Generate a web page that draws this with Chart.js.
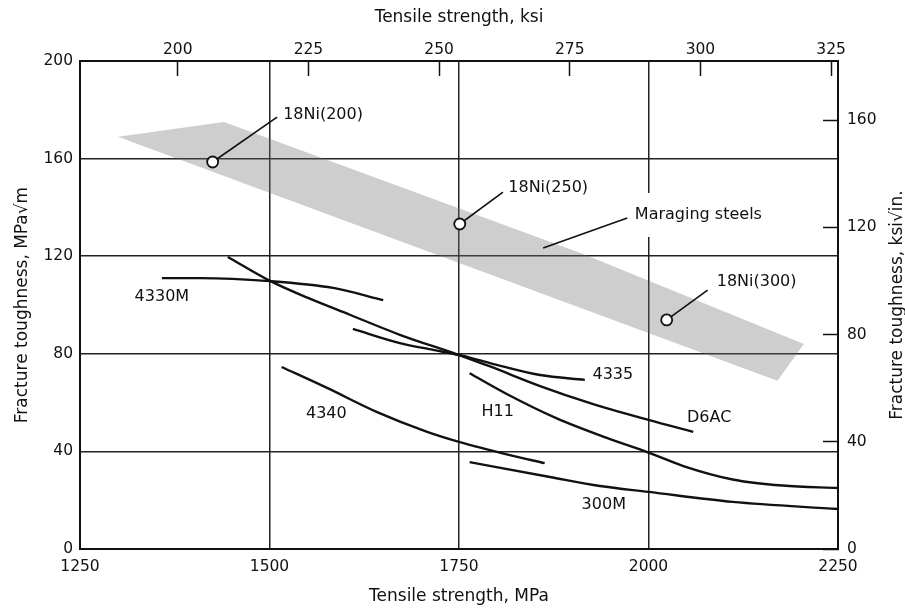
<!DOCTYPE html>
<html><head><meta charset="utf-8">
<script src="https://cdn.jsdelivr.net/npm/chart.js@4.4.1/dist/chart.umd.min.js"></script>
<style>html,body{margin:0;padding:0;background:#fff}canvas{display:block}</style>
</head><body>
<canvas id="c" width="905" height="610"></canvas>
<script>
// unit conversions
const MPA_PER_KSI = 6.895;
const MPAM_PER_KSIIN = 1.0988;

// tick labels
const xTicksMPa = [1250, 1500, 1750, 2000, 2250];
const yTicksMPam = [0, 40, 80, 120, 160, 200];
const topTicksKsi = [200, 225, 250, 275, 300, 325];
const rightTicksKsiIn = [0, 40, 80, 120, 160];

// curves (tensile strength MPa, fracture toughness MPa√m)
const s4330M_x = [1358, 1408, 1500, 1584, 1650];
const s4330M_y = [111, 111, 109.8, 107, 102];
const sD6AC_x = [1445, 1500, 1550, 1606, 1672, 1750, 1791, 1857, 1923, 2000, 2059];
const sD6AC_y = [119.7, 110, 103, 96, 87.8, 79.5, 74.8, 66.8, 59.8, 52.9, 48];
const s4335_x = [1610, 1672, 1716, 1750, 1791, 1857, 1916];
const s4335_y = [90.2, 84.4, 81.6, 79.5, 76.2, 71.3, 69.3];
const s4340_x = [1516, 1576, 1642, 1708, 1750, 1817, 1863];
const s4340_y = [74.6, 66, 56.1, 48, 43.9, 38.5, 35.2];
const sH11_x = [1764, 1813, 1879, 1945, 2000, 2046, 2111, 2177, 2250];
const sH11_y = [72, 63.5, 53.5, 45.5, 39.5, 34, 28.5, 26, 25];
const s300M_x = [1764, 1870, 1936, 2000, 2111, 2250];
const s300M_y = [35.6, 29.5, 25.8, 23.4, 19.3, 16.4];

// maraging steels band
const bandUpper_x = [1300, 1440, 1913, 2205];
const bandUpper_y = [169, 175, 121, 84];
const bandLower_x = [1300, 2170, 2205];
const bandLower_y = [169, 69, 84];

// 18Ni points
const ni_names = ['18Ni(200)', '18Ni(250)', '18Ni(300)'];
const ni_x = [1425, 1751, 2024];
const ni_y = [158.6, 133.2, 93.9];

// leader lines [x1,y1,x2,y2]
const leaders = [
  [1425, 158.6, 1510, 177],
  [1751, 133.2, 1808, 146.3],
  [1861, 123.4, 1972, 135.7],
  [2024, 93.9, 2078, 106.1]
];

// text labels
const labelTexts = ['18Ni(200)', '18Ni(250)', 'Maraging steels', '18Ni(300)', '4330M', '4335', '4340', 'H11', 'D6AC', '300M'];
const labelX = [1518, 1815, 1982, 2090, 1358, 1953, 1575, 1801, 2080, 1941];
const labelY = [177.9, 148, 136.9, 109.4, 103.3, 71.3, 55.3, 56.1, 53.7, 18];
const labelAlign = ['left', 'left', 'left', 'left', 'center', 'center', 'center', 'center', 'center', 'center'];

const zip = (xs, ys) => xs.map((x, i) => ({x, y: ys[i]}));

const FONT = "'DejaVu Sans', sans-serif";
Chart.defaults.font.family = FONT;
Chart.defaults.color = '#111';

const curve = (xs, ys) => ({
  data: zip(xs, ys), showLine: true, borderColor: '#111', borderWidth: 2.4,
  pointRadius: 0, cubicInterpolationMode: 'monotone', fill: false, order: 1
});

const datasets = [
  { data: zip(ni_x, ni_y), showLine: false, pointRadius: 5.5, pointHoverRadius: 5.5,
    pointBackgroundColor: '#fff', pointBorderColor: '#111', pointBorderWidth: 1.8, order: 0 },
  curve(s4330M_x, s4330M_y),
  curve(sD6AC_x, sD6AC_y),
  curve(s4335_x, s4335_y),
  curve(s4340_x, s4340_y),
  curve(sH11_x, sH11_y),
  curve(s300M_x, s300M_y),
];
leaders.forEach(l => datasets.push({
  data: [{x: l[0], y: l[1]}, {x: l[2], y: l[3]}], showLine: true, borderColor: '#111',
  borderWidth: 1.6, pointRadius: 0, fill: false, order: 2
}));
datasets.push({ data: zip(bandLower_x, bandLower_y), showLine: true, borderWidth: 0,
  borderColor: 'rgba(0,0,0,0)', pointRadius: 0, fill: false, order: 3 });
datasets.push({ data: zip(bandUpper_x, bandUpper_y), showLine: true, borderWidth: 0,
  borderColor: 'rgba(0,0,0,0)', pointRadius: 0, fill: '-1',
  backgroundColor: 'rgba(110,110,110,0.34)', order: 3 });

const labelPlugin = {
  id: 'labels',
  afterDatasetsDraw(chart) {
    const ctx = chart.ctx, xs = chart.scales.x, ys = chart.scales.y;
    ctx.save();
    ctx.font = '16px ' + FONT;
    ctx.textBaseline = 'middle';
    labelTexts.forEach((t, i) => {
      const px = xs.getPixelForValue(labelX[i]);
      const py = ys.getPixelForValue(labelY[i]);
      const w = ctx.measureText(t).width;
      const left = labelAlign[i] === 'left' ? px : px - w / 2;
      if (t === 'Maraging steels') {
        ctx.fillStyle = '#fff';
        ctx.fillRect(left - 4, py - 22, w + 8, 44);
      }
      ctx.fillStyle = '#111';
      ctx.textAlign = 'left';
      ctx.fillText(t, left, py);
    });
    ctx.restore();
  },
  afterDraw(chart) {
    const ctx = chart.ctx, y2 = chart.scales.y2;
    ctx.save();
    ctx.font = '17px ' + FONT;
    ctx.fillStyle = '#111';
    ctx.textAlign = 'center';
    ctx.textBaseline = 'middle';
    ctx.translate(898, (y2.top + y2.bottom) / 2);
    ctx.rotate(-Math.PI / 2);
    ctx.fillText('Fracture toughness, ksi\u221Ain.', 0, 0);
    ctx.restore();
  }
};

const gridColor = '#222';
const border = { display: true, color: '#111', width: 2 };

new Chart(document.getElementById('c'), {
  type: 'scatter',
  data: { datasets },
  plugins: [labelPlugin],
  options: {
    responsive: false, animation: false,
    layout: { padding: 0 },
    plugins: { legend: { display: false }, tooltip: { enabled: false } },
    scales: {
      x: {
        type: 'linear', position: 'bottom', min: 1250, max: 2250,
        afterBuildTicks: s => { s.ticks = xTicksMPa.map(v => ({value: v})); },
        afterFit: s => { s.height = 61; },
        ticks: { padding: 9, font: { size: 15.5 }, color: '#111', callback: v => String(v), maxRotation: 0 },
        grid: { color: gridColor, lineWidth: 1.5, drawTicks: false },
        border,
        title: { display: true, text: 'Tensile strength, MPa', font: { size: 17 }, color: '#111', padding: { top: 0, bottom: 3 } }
      },
      x2: {
        type: 'linear', position: 'top', min: 1250 / MPA_PER_KSI, max: 2250 / MPA_PER_KSI,
        afterBuildTicks: s => { s.ticks = topTicksKsi.map(v => ({value: v})); },
        afterFit: s => { s.height = 61; },
        ticks: { padding: 17, font: { size: 15.5 }, color: '#111', callback: v => String(v), maxRotation: 0 },
        grid: { drawOnChartArea: false, drawTicks: true, tickLength: -15, tickColor: '#111', tickWidth: 1.5 },
        border,
        title: { display: true, text: 'Tensile strength, ksi', font: { size: 17 }, color: '#111', padding: { top: 7, bottom: 0 } }
      },
      y: {
        type: 'linear', position: 'left', min: 0, max: 200,
        afterBuildTicks: s => { s.ticks = yTicksMPam.map(v => ({value: v})); },
        afterFit: s => { s.width = 80; },
        ticks: { padding: 7, font: { size: 15.5 }, color: '#111', callback: v => String(v) },
        grid: { color: gridColor, lineWidth: 1.5, drawTicks: false },
        border,
        title: { display: true, text: 'Fracture toughness, MPa\u221Am', font: { size: 17 }, color: '#111', padding: { top: 12, bottom: 0 } }
      },
      y2: {
        type: 'linear', position: 'right', min: 0, max: 200 / MPAM_PER_KSIIN,
        afterBuildTicks: s => { s.ticks = rightTicksKsiIn.map(v => ({value: v})); },
        afterFit: s => { s.width = 67; },
        ticks: { padding: 24, font: { size: 15.5 }, color: '#111', callback: v => String(v) },
        grid: { drawOnChartArea: false, drawTicks: true, tickLength: -15, tickColor: '#111', tickWidth: 1.5 },
        border
      }
    }
  }
});
</script>
</body></html>
